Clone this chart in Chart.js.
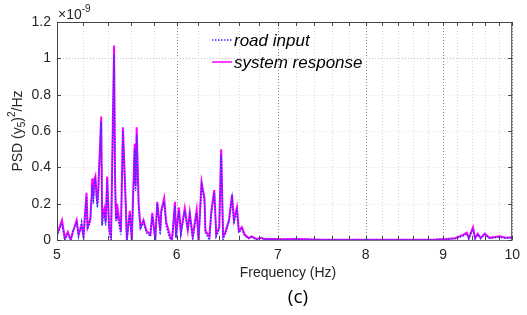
<!DOCTYPE html>
<html lang="en">
<head>
<meta charset="utf-8">
<title>PSD (c)</title>
<script src="https://cdn.jsdelivr.net/npm/chart.js@4.4.0/dist/chart.umd.min.js"></script>
<style>
	html, body { margin: 0; padding: 0; background: #fff; }
	#wrap { width: 527px; height: 315px; }
</style>
</head>
<body>
<div id="wrap"><canvas id="psd" width="527" height="315"></canvas></div>
<script>
// frequency (Hz), PSD values in units of 1e-9
const freqHz = [
	5.000, 5.038, 5.060, 5.083, 5.106, 5.121, 5.152, 5.167, 5.191, 5.206,
	5.230, 5.238, 5.261, 5.268, 5.272, 5.277, 5.285, 5.292, 5.301, 5.309,
	5.317, 5.324, 5.348, 5.356, 5.373, 5.385, 5.397, 5.413, 5.429, 5.454,
	5.462, 5.470, 5.478, 5.511, 5.528, 5.552, 5.561, 5.586, 5.603, 5.628,
	5.636, 5.645, 5.662, 5.678, 5.704, 5.730, 5.764, 5.781, 5.807, 5.825,
	5.851, 5.860, 5.886, 5.904, 5.940, 5.957, 5.984, 5.993, 6.020, 6.038,
	6.074, 6.102, 6.120, 6.148, 6.185, 6.203, 6.231, 6.259, 6.268, 6.306,
	6.325, 6.353, 6.372, 6.401, 6.420, 6.439, 6.459, 6.497, 6.527, 6.546,
	6.576, 6.595, 6.625, 6.655, 6.695, 6.725, 6.776, 6.827, 6.857, 6.950,
	7.050, 7.200, 7.500, 8.000, 8.500, 8.900, 9.050, 9.170, 9.280, 9.330,
	9.360, 9.420, 9.450, 9.490, 9.530, 9.590, 9.660, 9.810, 9.900, 10.00
];
const roadInput = [
	0.02, 0.09, 0.00, 0.03, 0.00, 0.05, 0.09, 0.02, 0.10, 0.01,
	0.24, 0.06, 0.10, 0.20, 0.27, 0.30, 0.20, 0.31, 0.33, 0.24,
	0.18, 0.25, 0.65, 0.08, 0.15, 0.08, 0.33, 0.04, 0.00, 1.02,
	0.30, 0.10, 0.15, 0.03, 0.60, 0.17, 0.00, 0.14, 0.00, 0.50,
	0.27, 0.58, 0.17, 0.06, 0.10, 0.04, 0.02, 0.13, 0.00, 0.20,
	0.03, 0.15, 0.21, 0.08, 0.00, 0.00, 0.19, 0.01, 0.16, 0.03,
	0.16, 0.05, 0.14, 0.00, 0.15, 0.00, 0.30, 0.21, 0.04, 0.00,
	0.15, 0.26, 0.02, 0.06, 0.47, 0.00, 0.03, 0.10, 0.23, 0.09,
	0.16, 0.04, 0.06, 0.02, 0.01, 0.015, 0.003, 0.01, 0.004, 0.004,
	0.003, 0.003, 0.001, 0.001, 0.001, 0.002, 0.004, 0.008, 0.022, 0.035,
	0.008, 0.06, 0.008, 0.03, 0.008, 0.03, 0.01, 0.015, 0.01, 0.012
];
const systemResponse = [
	0.03, 0.11, 0.01, 0.045, 0.00, 0.04, 0.11, 0.03, 0.08, 0.02,
	0.26, 0.07, 0.12, 0.22, 0.30, 0.34, 0.24, 0.33, 0.35, 0.26,
	0.20, 0.28, 0.68, 0.12, 0.17, 0.10, 0.35, 0.07, 0.02, 1.07,
	0.35, 0.12, 0.20, 0.05, 0.62, 0.20, 0.00, 0.16, 0.00, 0.53,
	0.30, 0.62, 0.20, 0.07, 0.11, 0.05, 0.03, 0.15, 0.00, 0.21,
	0.05, 0.16, 0.23, 0.10, 0.02, 0.00, 0.21, 0.02, 0.18, 0.04,
	0.175, 0.055, 0.15, 0.02, 0.165, 0.00, 0.32, 0.23, 0.05, 0.02,
	0.16, 0.275, 0.03, 0.07, 0.50, 0.02, 0.04, 0.11, 0.25, 0.11,
	0.18, 0.05, 0.07, 0.03, 0.01, 0.02, 0.005, 0.012, 0.005, 0.006,
	0.004, 0.005, 0.002, 0.002, 0.002, 0.003, 0.006, 0.01, 0.028, 0.04,
	0.01, 0.07, 0.01, 0.035, 0.01, 0.035, 0.012, 0.02, 0.012, 0.015
];
const xTickLabels = [5, 6, 7, 8, 9, 10];
const xGridValues = [5, 5.2, 5.4, 5.6, 5.8, 6, 6.2, 6.4, 6.6, 6.8, 7, 7.2, 7.4, 7.6, 7.8,
	8, 8.2, 8.4, 8.6, 8.8, 9, 9.2, 9.4, 9.6, 9.8, 10];
const yTicks = [0, 0.2, 0.4, 0.6, 0.8, 1, 1.2];
const seriesNames = ['road input', 'system response'];

const TXT = '#262626';

// grid, frame, legend, axis titles
const frame = {
	id: 'frame',
	beforeDatasetsDraw(chart) {
		const { ctx, chartArea: a, scales: { x, y } } = chart;
		ctx.save();
		ctx.lineWidth = 1;
		ctx.setLineDash([1, 2]);
		xGridValues.forEach(v => {
			const px = Math.round(x.getPixelForValue(v)) + 0.5;
			ctx.strokeStyle = Number.isInteger(v) ? '#8a8a8a' : '#d6d6d6';
			ctx.beginPath(); ctx.moveTo(px, a.top); ctx.lineTo(px, a.bottom); ctx.stroke();
		});
		yTicks.forEach(v => {
			const py = Math.round(y.getPixelForValue(v)) + 0.5;
			ctx.strokeStyle = v === 1 ? '#bdbdbd' : '#e6e6e6';
			ctx.beginPath(); ctx.moveTo(a.left, py); ctx.lineTo(a.right, py); ctx.stroke();
		});
		ctx.restore();
	},
	afterDatasetsDraw(chart) {
		const { ctx, chartArea: a, scales: { x, y } } = chart;
		ctx.save();
		// box
		ctx.setLineDash([]);
		ctx.lineWidth = 1;
		ctx.strokeStyle = '#444';
		ctx.strokeRect(a.left + 0.5, a.top + 0.5, a.right - a.left - 1, a.bottom - a.top);
		ctx.strokeStyle = '#777';
		ctx.beginPath(); ctx.moveTo(a.left, a.bottom + 0.5); ctx.lineTo(a.right, a.bottom + 0.5); ctx.stroke();
		// inward ticks
		ctx.strokeStyle = '#444';
		xGridValues.forEach(v => {
			const px = Math.round(x.getPixelForValue(v)) + 0.5;
			ctx.beginPath();
			ctx.moveTo(px, a.bottom); ctx.lineTo(px, a.bottom - 4);
			ctx.moveTo(px, a.top); ctx.lineTo(px, a.top + 4);
			ctx.stroke();
		});
		yTicks.forEach(v => {
			const py = Math.round(y.getPixelForValue(v)) + 0.5;
			ctx.beginPath();
			ctx.moveTo(a.left, py); ctx.lineTo(a.left + 4, py);
			ctx.moveTo(a.right, py); ctx.lineTo(a.right - 4, py);
			ctx.stroke();
		});

		// x10^-9
		ctx.fillStyle = TXT;
		ctx.textBaseline = 'alphabetic';
		ctx.textAlign = 'left';
		ctx.font = '14px "Liberation Sans", Arial, sans-serif';
		ctx.fillText('\u00d710', a.left + 1, a.top - 3);
		const w10 = ctx.measureText('\u00d710').width;
		ctx.font = '10px "Liberation Sans", Arial, sans-serif';
		ctx.fillText('-9', a.left + 1 + w10, a.top - 10);

		// legend
		const lx = 212, lx2 = 232;
		const rows = [
			{ y: 40, color: '#2f2fff', dash: [1.5, 1.5], text: seriesNames[0] },
			{ y: 62, color: '#ff00ff', dash: [], text: seriesNames[1] }
		];
		rows.forEach(r => {
			ctx.strokeStyle = r.color;
			ctx.lineWidth = 1.5;
			ctx.setLineDash(r.dash);
			ctx.beginPath(); ctx.moveTo(lx, r.y); ctx.lineTo(lx2, r.y); ctx.stroke();
			ctx.setLineDash([]);
			ctx.fillStyle = '#000';
			ctx.font = 'italic 17px "Liberation Sans", Arial, sans-serif';
			ctx.textBaseline = 'middle';
			ctx.fillText(r.text, lx2 + 2, r.y + 1);
		});

		// y title with sub/superscript
		ctx.save();
		ctx.translate(18, (a.top + a.bottom) / 2);
		ctx.rotate(-Math.PI / 2);
		ctx.fillStyle = TXT;
		ctx.textBaseline = 'middle';
		const parts = [
			{ t: 'PSD (y', f: 14, dy: 0 },
			{ t: '5', f: 10, dy: 4 },
			{ t: ')', f: 14, dy: 0 },
			{ t: '2', f: 10, dy: -6 },
			{ t: '/Hz', f: 14, dy: 0 }
		];
		let tot = 0;
		parts.forEach(p => { ctx.font = p.f + 'px "Liberation Sans", Arial, sans-serif'; p.w = ctx.measureText(p.t).width; tot += p.w; });
		let cx = -tot / 2;
		ctx.textAlign = 'left';
		parts.forEach(p => { ctx.font = p.f + 'px "Liberation Sans", Arial, sans-serif'; ctx.fillText(p.t, cx, p.dy); cx += p.w; });
		ctx.restore();

		// x title and panel label
		ctx.fillStyle = TXT;
		ctx.textAlign = 'center';
		ctx.textBaseline = 'middle';
		ctx.font = '14px "Liberation Sans", Arial, sans-serif';
		ctx.fillText('Frequency (Hz)', 288, 273);
		ctx.fillStyle = '#000';
		ctx.font = '19px "Open Sans", sans-serif';
		ctx.fillText('(c)', 298, 298);
		ctx.restore();
	}
};

const pts = vals => freqHz.map((f, i) => ({ x: f, y: vals[i] }));

new Chart(document.getElementById('psd'), {
	type: 'line',
	data: {
		datasets: [
			{
				label: seriesNames[0],
				data: pts(roadInput),
				borderColor: '#2f2fff',
				borderWidth: 1.5,
				borderDash: [1.5, 1.5],
				pointRadius: 0,
				tension: 0
			},
			{
				label: seriesNames[1],
				data: pts(systemResponse),
				borderColor: '#ff00ff',
				borderWidth: 2,
				pointRadius: 0,
				tension: 0
			}
		]
	},
	options: {
		responsive: false,
		animation: false,
		layout: { padding: { top: 22, right: 7, left: 0, bottom: 0 } },
		plugins: { legend: { display: false }, tooltip: { enabled: false } },
		scales: {
			x: {
				type: 'logarithmic',
				min: 5,
				max: 10,
				grid: { display: false, drawTicks: false },
				border: { display: false },
				afterBuildTicks: s => { s.ticks = xTickLabels.map(v => ({ value: v })); },
				afterFit: s => { s.height = 75; },
				ticks: {
					autoSkip: false,
					maxRotation: 0,
					padding: 7,
					color: TXT,
					font: { family: '"Liberation Sans", Arial, sans-serif', size: 14 },
					callback: v => String(v)
				}
			},
			y: {
				min: 0,
				max: 1.2,
				grid: { display: false, drawTicks: false },
				border: { display: false },
				afterBuildTicks: s => { s.ticks = yTicks.map(v => ({ value: v })); },
				afterFit: s => { s.width = 57; },
				ticks: {
					padding: 6,
					color: TXT,
					font: { family: '"Liberation Sans", Arial, sans-serif', size: 14 },
					callback: v => String(v)
				}
			}
		}
	},
	plugins: [frame]
});
</script>
</body>
</html>
